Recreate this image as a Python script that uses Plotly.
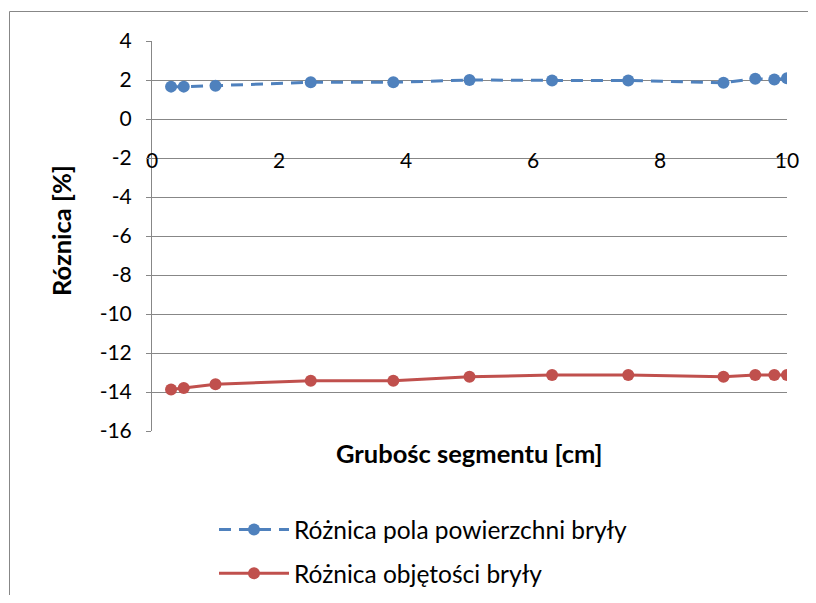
import plotly.graph_objects as go

thickness_cm = [0.3, 0.5, 1, 2.5, 3.8, 5, 6.3, 7.5, 9, 9.5, 9.8, 10]
surface_diff = [1.66, 1.66, 1.71, 1.88, 1.88, 2.0, 1.98, 1.98, 1.86, 2.07, 2.03, 2.09]
volume_diff = [-13.87, -13.8, -13.6, -13.42, -13.42, -13.22, -13.13, -13.13, -13.22, -13.13, -13.13, -13.13]
series_names = ["Różnica pola powierzchni bryły", "Różnica objętości bryły"]
x_ticks = [0, 2, 4, 6, 8, 10]
y_ticks = [4, 2, 0, -2, -4, -6, -8, -10, -12, -14, -16]

FONT = "Lato, Open Sans, sans-serif"
GRID = "#878787"

fig = go.Figure()
fig.add_trace(go.Scatter(
    x=thickness_cm, y=surface_diff, name=series_names[0], mode="lines+markers",
    legendgroup="a",
    line=dict(color="#4F81BD", width=3, dash="12px,8px"),
    marker=dict(color="#4F81BD", size=12, symbol="circle"),
))
fig.add_trace(go.Scatter(
    x=thickness_cm, y=volume_diff, name=series_names[1], mode="lines+markers",
    legendgroup="b",
    line=dict(color="#C0504D", width=3),
    marker=dict(color="#C0504D", size=12, symbol="circle"),
))

# the page puts the figure at an 8px body margin; positions below are in figure px
W, H = 800, 587
L, T = 144, 33
R = W - 779
B = H - 423
pw, ph = W - L - R, H - T - B

def px_x(px):
    return (px - L) / pw

def px_y(py):
    return (H - B - py) / ph

bx0, by0 = px_x(1.5), px_y(3.5)
border_path = f"M {bx0} {px_y(700)} L {bx0} {by0} L {px_x(1200)} {by0}"

fig.update_layout(
    width=W, height=H,
    margin=dict(l=L, r=R, t=T, b=B, pad=0, autoexpand=False),
    paper_bgcolor="white", plot_bgcolor="white",
    font=dict(family=FONT, size=21, color="black"),
    showlegend=True,
    legend=dict(
        x=px_x(206), y=px_y(499), xanchor="left", yanchor="top",
        orientation="v", itemwidth=70, traceorder="grouped", tracegroupgap=9,
        font=dict(family=FONT, size=24.5, color="black"),
        bgcolor="rgba(0,0,0,0)",
    ),
    xaxis=dict(
        range=[0, 10], tickvals=x_ticks, ticktext=[str(v) for v in x_ticks],
        showgrid=False, zeroline=False, showline=False,
        anchor="free", position=14 / 20, ticks="", ticklabelstandoff=-12,
        tickfont=dict(family=FONT, size=21, color="black"),
    ),
    yaxis=dict(
        range=[-16, 4], tickvals=y_ticks, ticktext=[str(v) for v in y_ticks],
        showgrid=True, gridcolor=GRID, gridwidth=1, zeroline=False,
        showline=True, linecolor=GRID, linewidth=1,
        ticks="outside", ticklen=5, tickcolor=GRID, ticklabelstandoff=10,
        tickfont=dict(family=FONT, size=21, color="black"),
    ),
    annotations=[
        dict(text="<b>Grubośc segmentu [cm]</b>", x=0.5, y=px_y(445), xref="paper", yref="paper",
             showarrow=False, xanchor="center", yanchor="middle",
             font=dict(family=FONT, size=25.5, color="black")),
        dict(text="<b>Róznica [%]</b>", x=px_x(53), y=px_y(222), xref="paper", yref="paper",
             showarrow=False, xanchor="center", yanchor="middle", textangle=-90,
             font=dict(family=FONT, size=25.5, color="black")),
    ],
    shapes=[
        dict(type="path", xref="paper", yref="paper", path=border_path,
             line=dict(color=GRID, width=1), layer="below"),
    ],
)

fig.write_html("out.html", post_script="document.body.style.overflow='hidden';")
